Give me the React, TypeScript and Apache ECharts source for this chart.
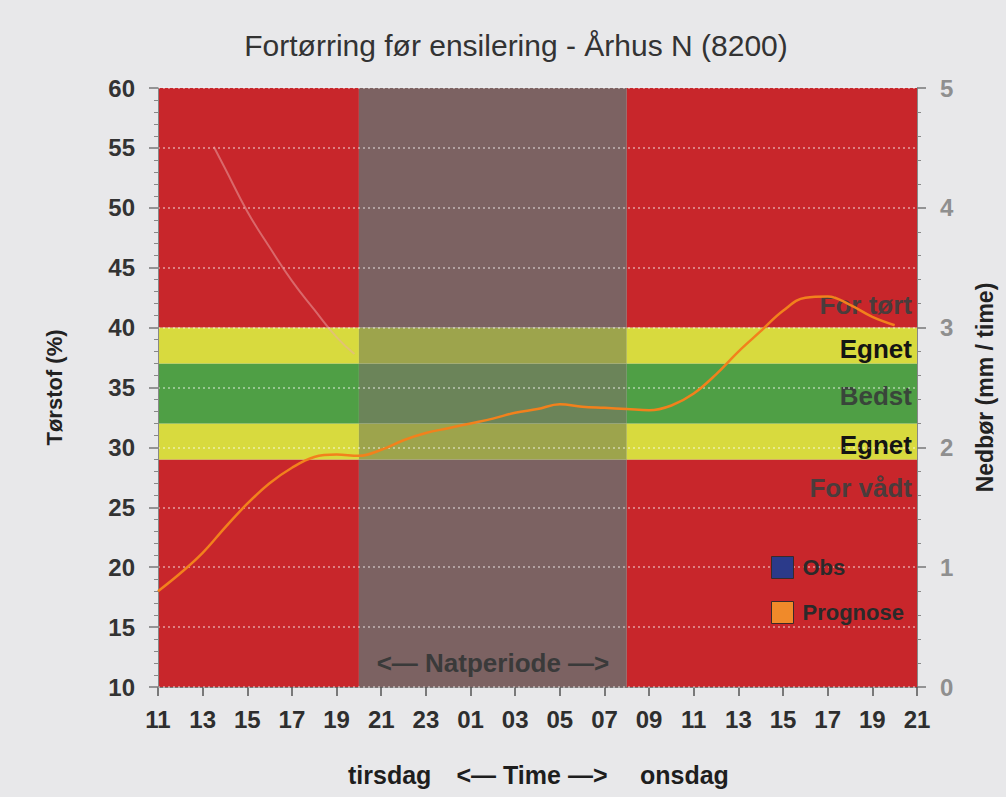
import React, { useEffect, useRef } from "react";
import * as echarts from "echarts";

// x axis: hours since 11:00 tirsdag
const startHour = 11;
const hourSpan = 34;
const xStep = 2;
// left axis (Tørstof %)
const leftMin = 10;
const leftMax = 60;
const leftStep = 5;
// right axis (Nedbør mm/time)
const rightMin = 0;
const rightMax = 5;
const rightStep = 1;

// Prognose, hourly from 11:00 tirsdag
const prognose = [
  18.0, 19.5, 21.2, 23.3, 25.3, 27.0, 28.3, 29.2, 29.4, 29.3, 29.8, 30.6,
  31.2, 31.6, 32.0, 32.4, 32.9, 33.2, 33.6, 33.4, 33.3, 33.2, 33.1, 33.5,
  34.5, 36.1, 38.0, 39.7, 41.4, 42.5, 42.6, 41.9, 40.9, 40.2,
];
// faint earlier trace [hour, value]
const traceX = [2.5, 3, 4, 5, 6, 7, 8, 8.8];
const traceY = [55.1, 53.3, 49.7, 46.7, 43.9, 41.5, 39.2, 37.8];
// Obs (precipitation) – none observed
const obs: number[] = [];

const zoneLimits = [10, 29, 32, 37, 40, 60];
const zoneNames = ["For vådt", "Egnet", "Bedst", "Egnet", "For tørt"];
const zoneLabelValues = [26.6, 30.2, 34.3, 38.2, 41.9];
const nightFrom = 9; // 20:00
const nightTo = 21; // 08:00

const zoneDay = ["#c8262b", "#d8da3e", "#4f9f45", "#d8da3e", "#c8262b"];
const zoneNight = ["#7c6262", "#9da44c", "#6b8459", "#9da44c", "#7c6262"];
const zoneTextColors = ["#4a3c3c", "#141414", "#39453a", "#141414", "#4a3c3c"];

const FONT = "'Liberation Sans', Arial, sans-serif";

export default function App() {
  const ref = useRef<HTMLDivElement>(null);
  useEffect(() => {
    if (!ref.current) return;
    const chart = echarts.init(ref.current, undefined, { renderer: "svg" });

    const segments: [number, number, number][] = [
      [0, nightFrom, 0],
      [nightFrom, nightTo, 1],
      [nightTo, hourSpan, 0],
    ];
    const bandData: number[][] = [];
    segments.forEach(([x0, x1, night]) => {
      for (let z = 0; z < zoneNames.length; z++) {
        bandData.push([x0, x1, zoneLimits[z], zoneLimits[z + 1], z, night]);
      }
    });
    const labelData = zoneLabelValues.map((v, i) => [hourSpan, v, i]);
    const progData = prognose.map((v, i) => [i, v]);
    const traceData = traceX.map((x, i) => [x, traceY[i]]);

    const pad = (n: number) => (n < 10 ? "0" + n : "" + n);

    chart.setOption({
      animation: false,
      backgroundColor: "#e8e8ea",
      grid: { left: 158, right: 89, top: 88, bottom: 110, containLabel: false },
      legend: {
        orient: "vertical",
        left: 766,
        top: 551,
        itemWidth: 22,
        itemHeight: 22,
        itemGap: 22,
        icon: "rect",
        selectedMode: false,
        data: [
          { name: "Obs", itemStyle: { color: "#2b3a8a", borderColor: "#3a2a2a", borderWidth: 1 } },
          { name: "Prognose", itemStyle: { color: "#f08a2a", borderColor: "#3a2a2a", borderWidth: 1 } },
        ],
        textStyle: { fontFamily: FONT, fontSize: 22, fontWeight: "bold", color: "#2a2a2a", padding: [0, 0, 0, 4] },
      },
      xAxis: {
        type: "value",
        min: 0,
        max: hourSpan,
        interval: xStep,
        axisLine: { show: true, lineStyle: { color: "#777", width: 1 } },
        axisTick: { show: true, length: 9, lineStyle: { color: "#555", width: 1.5 } },
        axisLabel: {
          margin: 20,
          fontFamily: FONT,
          fontSize: 24,
          fontWeight: "bold",
          color: "#2e2e2e",
          formatter: (v: number) => pad((startHour + v) % 24),
        },
        splitLine: { show: false },
      },
      yAxis: [
        {
          type: "value",
          min: leftMin,
          max: leftMax,
          interval: leftStep,
          z: 3,
          name: "Tørstof (%)",
          nameLocation: "middle",
          nameGap: 93,
          nameTextStyle: { fontFamily: FONT, fontSize: 22, fontWeight: "bold", color: "#222" },
          axisLine: { show: true, lineStyle: { color: "#888", width: 1 } },
          axisTick: { show: true, length: 9, lineStyle: { color: "#777", width: 1.5 } },
          minorTick: { show: true, splitNumber: 5, length: 4, lineStyle: { color: "#888" } },
          axisLabel: { margin: 23, fontFamily: FONT, fontSize: 24, fontWeight: "bold", color: "#333" },
          splitLine: { show: true, lineStyle: { type: [2, 3], color: "rgba(255,255,255,0.55)", width: 1.5 } },
        },
        {
          type: "value",
          min: rightMin,
          max: rightMax,
          interval: rightStep,
          position: "right",
          name: "Nedbør (mm / time)",
          nameLocation: "middle",
          nameGap: 56,
          nameTextStyle: { fontFamily: FONT, fontSize: 23, fontWeight: "bold", color: "#222" },
          axisLine: { show: true, lineStyle: { color: "#888", width: 1 } },
          axisTick: { show: true, length: 9, lineStyle: { color: "#777", width: 1.5 } },
          minorTick: { show: true, splitNumber: 5, length: 4, lineStyle: { color: "#888" } },
          axisLabel: { margin: 23, fontFamily: FONT, fontSize: 24, fontWeight: "bold", color: "#8f8f8f" },
          splitLine: { show: false },
        },
      ],
      series: [
        {
          type: "custom",
          name: "zones",
          z: 1,
          silent: true,
          data: bandData,
          encode: { x: [0, 1], y: [2, 3] },
          renderItem: (params: any, api: any) => {
            const x0 = api.value(0), x1 = api.value(1), y0 = api.value(2), y1 = api.value(3);
            const z = api.value(4), night = api.value(5);
            const a = api.coord([x0, y1]);
            const b = api.coord([x1, y0]);
            return {
              type: "rect",
              shape: { x: a[0], y: a[1], width: b[0] - a[0], height: b[1] - a[1] },
              style: { fill: night ? zoneNight[z] : zoneDay[z] },
            };
          },
        },
        {
          type: "custom",
          name: "zoneLabels",
          z: 2,
          silent: true,
          data: labelData,
          encode: { x: 0, y: 1 },
          renderItem: (params: any, api: any) => {
            const p = api.coord([api.value(0), api.value(1)]);
            const i = api.value(2);
            return {
              type: "text",
              x: p[0] - 5,
              y: p[1],
              style: {
                text: zoneNames[i],
                fill: zoneTextColors[i],
                fontFamily: FONT,
                fontSize: 26,
                fontWeight: "bold",
                align: "right",
                verticalAlign: "middle",
              },
            };
          },
        },
        {
          type: "bar",
          name: "Obs",
          yAxisIndex: 1,
          data: obs,
          itemStyle: { color: "#2b3a8a" },
        },
        {
          type: "line",
          name: "trace",
          z: 4,
          data: traceData,
          smooth: true,
          showSymbol: false,
          silent: true,
          lineStyle: { color: "rgba(235,170,170,0.5)", width: 2 },
        },
        {
          type: "line",
          name: "Prognose",
          z: 10,
          data: progData,
          smooth: 0.4,
          showSymbol: false,
          itemStyle: { color: "#f08a2a" },
          lineStyle: { color: "#f2811c", width: 2.5 },
        },
      ],
      graphic: [
        {
          type: "text",
          x: 516,
          y: 45,
          style: {
            text: "Fortørring før ensilering - Århus N (8200)",
            fontFamily: FONT,
            fontSize: 30,
            fill: "#333",
            align: "center",
            verticalAlign: "middle",
          },
        },
        {
          type: "text",
          x: 493,
          y: 663,
          z: 20,
          style: {
            text: "<— Natperiode —>",
            fontFamily: FONT,
            fontSize: 26,
            fontWeight: "bold",
            fill: "#3a3a3a",
            align: "center",
            verticalAlign: "middle",
          },
        },
        {
          type: "text",
          x: 348,
          y: 775,
          style: { text: "tirsdag", fontFamily: FONT, fontSize: 25, fontWeight: "bold", fill: "#1e1e1e", verticalAlign: "middle" },
        },
        {
          type: "text",
          x: 532,
          y: 775,
          style: { text: "<— Time —>", fontFamily: FONT, fontSize: 25, fontWeight: "bold", fill: "#1e1e1e", align: "center", verticalAlign: "middle" },
        },
        {
          type: "text",
          x: 640,
          y: 775,
          style: { text: "onsdag", fontFamily: FONT, fontSize: 25, fontWeight: "bold", fill: "#1e1e1e", verticalAlign: "middle" },
        },
      ],
    });
    return () => chart.dispose();
  }, []);
  return (
    <div
      ref={ref}
      style={{ position: "fixed", left: 0, top: 0, width: 1006, height: 797 }}
    />
  );
}
